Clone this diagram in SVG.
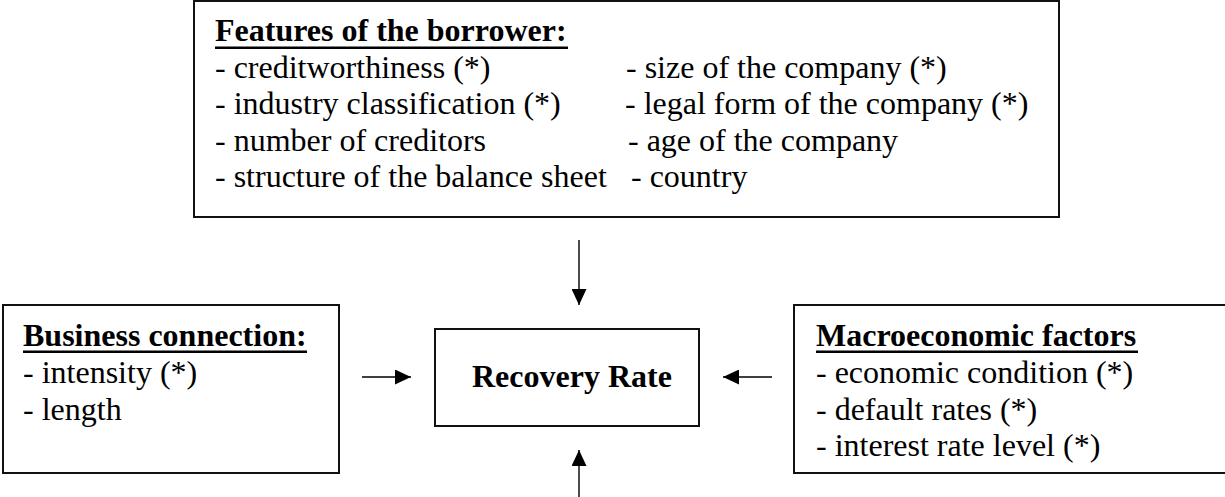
<svg xmlns="http://www.w3.org/2000/svg" width="1225" height="497" viewBox="0 0 1225 497">
<style>
.box{fill:#fff;stroke:#111;stroke-width:2}
.t{font-family:"Liberation Serif","Times New Roman",serif;font-size:32px;fill:#000}
.b{font-weight:bold}
.ul{fill:#000}
.con{stroke:#000;stroke-width:1.4;fill:none}
</style>
<defs>
<marker id="ah" viewBox="0 0 16 15" refX="16" refY="7.5" markerWidth="16" markerHeight="15" markerUnits="userSpaceOnUse" orient="auto">
<path d="M0,0 L16,7.5 L0,15 Z" fill="#000"/>
</marker>
</defs>
<rect width="1225" height="497" fill="#fff"/>
<g id="features">
<rect class="box" x="194" y="1" width="865" height="216"/>
<text class="t b" x="215" y="41">Features of the borrower:</text>
<rect class="ul" x="215" y="46.5" width="353" height="2.5"/>
<text class="t" x="215" y="77.5">- creditworthiness (*)</text>
<text class="t" x="215" y="114">- industry classification (*)</text>
<text class="t" x="215" y="150.5">- number of creditors</text>
<text class="t" x="215" y="187">- structure of the balance sheet</text>
<text class="t" x="626" y="77.5">- size of the company (*)</text>
<text class="t" x="625" y="114">- legal form of the company (*)</text>
<text class="t" x="628" y="150.5">- age of the company</text>
<text class="t" x="631" y="187">- country</text>
</g>
<g id="business">
<rect class="box" x="3" y="305" width="336" height="168"/>
<text class="t b" x="23" y="346">Business connection:</text>
<rect class="ul" x="23" y="350.5" width="284" height="2.5"/>
<text class="t" x="23" y="383">- intensity (*)</text>
<text class="t" x="23" y="419.5">- length</text>
</g>
<g id="recovery">
<rect class="box" x="435" y="329" width="264" height="97"/>
<text class="t b" x="472" y="387">Recovery Rate</text>
</g>
<g id="macro">
<rect class="box" x="794" y="305" width="440" height="168"/>
<text class="t b" x="816" y="346">Macroeconomic factors</text>
<rect class="ul" x="816" y="350.5" width="322" height="2.5"/>
<text class="t" x="816" y="383">- economic condition (*)</text>
<text class="t" x="816" y="419.5">- default rates (*)</text>
<text class="t" x="816" y="456">- interest rate level (*)</text>
</g>
<g id="connectors">
<line class="con" x1="579" y1="240" x2="579" y2="305" marker-end="url(#ah)"/>
<line class="con" x1="579" y1="497" x2="579" y2="450" marker-end="url(#ah)"/>
<line class="con" x1="362" y1="377" x2="411" y2="377" marker-end="url(#ah)"/>
<line class="con" x1="772" y1="377" x2="723" y2="377" marker-end="url(#ah)"/>
</g>
</svg>
